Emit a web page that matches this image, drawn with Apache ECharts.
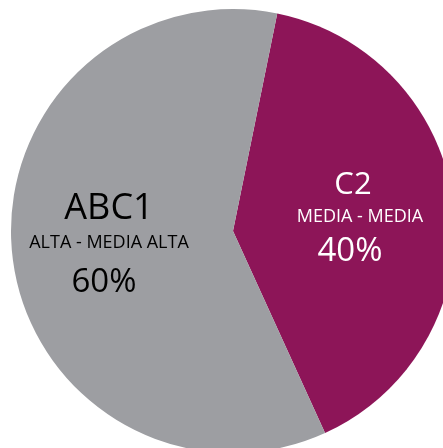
<!DOCTYPE html>
<html>
<head>
<meta charset="utf-8">
<script src="https://cdn.jsdelivr.net/npm/echarts@6/dist/echarts.min.js"></script>
<style>
  html, body { margin: 0; padding: 0; background: #ffffff; }
  #pieChart { width: 443px; height: 448px; }
</style>
</head>
<body>
<div id="pieChart"></div>
<script>
// datos del gráfico
var segmentos = ['C2', 'ABC1'];
var subtitulos = ['MEDIA - MEDIA', 'ALTA - MEDIA ALTA'];
var porcentajes = [40, 60];
var colores = ['#8d1558', '#9d9ea2'];

var chartDom = document.getElementById('pieChart');
var myChart = echarts.init(chartDom);
var option;

// posición de cada etiqueta (centro del bloque de texto)
var labelPos = [
  { x: 360, y: 220 },
  { x: 109, y: 249 }
];

var formattedData = segmentos.map(function (name, i) {
  var textColor = i === 0 ? '#ffffff' : '#000000';
  return {
    name: name,
    value: porcentajes[i],
    itemStyle: { color: colores[i] },
    label: {
      color: textColor,
      rich: i === 0 ? {
        t: { fontSize: 31, lineHeight: 39, color: textColor, padding: [0, 14, 0, 0] },
        s: { fontSize: 18, lineHeight: 24, color: textColor },
        p: { fontSize: 33, lineHeight: 45, color: textColor, padding: [0, 20, 0, 0] }
      } : {
        t: { fontSize: 36, lineHeight: 44, color: textColor },
        s: { fontSize: 18, lineHeight: 24, color: textColor },
        p: { fontSize: 33, lineHeight: 57, color: textColor, padding: [0, 10, 0, 0] }
      }
    }
  };
});

option = {
  backgroundColor: '#ffffff',
  animation: false,
  series: [
    {
      type: 'pie',
      center: [233, 231],
      radius: 222,
      startAngle: 78.5,
      clockwise: true,
      silent: true,
      itemStyle: { borderWidth: 0 },
      label: {
        show: true,
        position: 'inside',
        fontFamily: 'Open Sans',
        align: 'center',
        formatter: function (p) {
          return '{t|' + p.name + '}\n{s|' + subtitulos[p.dataIndex] + '}\n{p|' + p.value + '%}';
        }
      },
      labelLine: { show: false },
      labelLayout: function (params) {
        var pos = labelPos[params.dataIndex];
        return { x: pos.x, y: pos.y, align: 'center', verticalAlign: 'middle' };
      },
      data: formattedData
    }
  ]
};

option && myChart.setOption(option);
</script>
</body>
</html>
